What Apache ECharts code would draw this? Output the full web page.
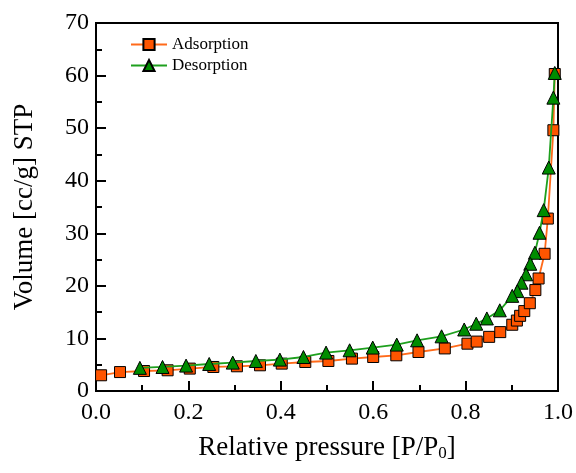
<!DOCTYPE html>
<html>
<head>
<meta charset="utf-8">
<script src="https://cdn.jsdelivr.net/npm/echarts@6/dist/echarts.min.js"></script>
<style>
html,body{margin:0;padding:0;background:#fff;}
#chart{width:576px;height:473px;}
</style>
</head>
<body>
<div id="chart"></div>
<script>
var seriesNames = ['Adsorption', 'Desorption'];
var pAds = [0.011,0.052,0.104,0.155,0.203,0.254,0.305,0.355,0.402,0.453,0.503,0.554,0.600,0.650,0.698,0.755,0.804,0.824,0.851,0.875,0.901,0.911,0.918,0.927,0.939,0.951,0.958,0.971,0.978,0.990,0.993];
var vAds = [2.99,3.6,3.8,3.94,4.26,4.57,4.70,4.89,5.21,5.52,5.71,6.16,6.47,6.79,7.42,8.1,9.0,9.4,10.3,11.2,12.6,13.4,14.3,15.2,16.7,19.2,21.4,26.1,32.8,49.6,60.3];
var pDes = [0.993,0.990,0.980,0.969,0.960,0.950,0.940,0.931,0.921,0.912,0.901,0.874,0.846,0.823,0.797,0.748,0.695,0.651,0.599,0.549,0.498,0.449,0.398,0.346,0.296,0.245,0.195,0.144,0.095];
var vDes = [60.5,55.8,42.5,34.4,30.1,26.3,24.2,22.2,20.6,19.0,18.1,15.35,13.8,12.8,11.7,10.4,9.64,8.83,8.26,7.74,7.30,6.47,5.97,5.71,5.40,5.14,4.83,4.57,4.4];
var xTitle = 'Relative pressure [P/P';
var xTitleSub = '0';
var yTitle = 'Volume [cc/g] STP';

function pairs(xs, ys){ return xs.map(function(x,i){ return [x, ys[i]]; }); }

var FONT = '"Liberation Serif", "Times New Roman", serif';
var chart = echarts.init(document.getElementById('chart'), null, {renderer:'canvas'});
chart.setOption({
  animation: false,
  backgroundColor: '#fff',
  grid: {left: 96, right: 18, top: 23, bottom: 82, show: true, borderColor: '#000', borderWidth: 2, backgroundColor: 'transparent'},
  legend: {
    orient: 'vertical', left: 125, top: 31, itemWidth: 36, itemHeight: 14, itemGap: 4,
    data: seriesNames,
    textStyle: {fontFamily: FONT, fontSize: 17, color: '#000'}
  },
  xAxis: {
    type: 'value', min: 0, max: 1, interval: 0.2,
    name: '{a|' + xTitle + '}{s|' + xTitleSub + '}{a|]}',
    nameLocation: 'middle', nameGap: 43,
    nameTextStyle: {rich: {
      a: {fontFamily: FONT, fontSize: 27, color: '#000'},
      s: {fontFamily: FONT, fontSize: 17, color: '#000', padding: [11, 0, 0, 0]}
    }},
    axisLine: {lineStyle: {color: '#000', width: 2}},
    axisTick: {inside: true, length: 10, lineStyle: {color: '#000', width: 2}},
    minorTick: {show: true, splitNumber: 2, length: 6, lineStyle: {color: '#000', width: 2}},
    splitLine: {show: false},
    axisLabel: {fontFamily: FONT, fontSize: 24, color: '#000', margin: 10,
      formatter: function(v){ return v.toFixed(1); }}
  },
  yAxis: {
    type: 'value', min: 0, max: 70, interval: 10,
    name: yTitle, nameLocation: 'middle', nameGap: 58, nameRotate: 90,
    nameTextStyle: {fontFamily: FONT, fontSize: 27, color: '#000'},
    axisLine: {lineStyle: {color: '#000', width: 2}},
    axisTick: {inside: true, length: 10, lineStyle: {color: '#000', width: 2}},
    minorTick: {show: true, splitNumber: 2, length: 6, lineStyle: {color: '#000', width: 2}},
    splitLine: {show: false},
    axisLabel: {fontFamily: FONT, fontSize: 24, color: '#000', margin: 7}
  },
  series: [
    {
      name: seriesNames[0], type: 'line', data: pairs(pAds, vAds),
      symbol: 'rect', symbolSize: 11, z: 2,
      lineStyle: {color: '#ff6a1a', width: 1.8},
      itemStyle: {color: '#ff5500', borderColor: '#000', borderWidth: 1}
    },
    {
      name: seriesNames[1], type: 'line', data: pairs(pDes, vDes),
      symbol: 'triangle', symbolSize: 13, z: 3,
      lineStyle: {color: '#1ea01e', width: 1.8},
      itemStyle: {color: '#008c00', borderColor: '#000', borderWidth: 1}
    }
  ]
});
</script>
</body>
</html>
